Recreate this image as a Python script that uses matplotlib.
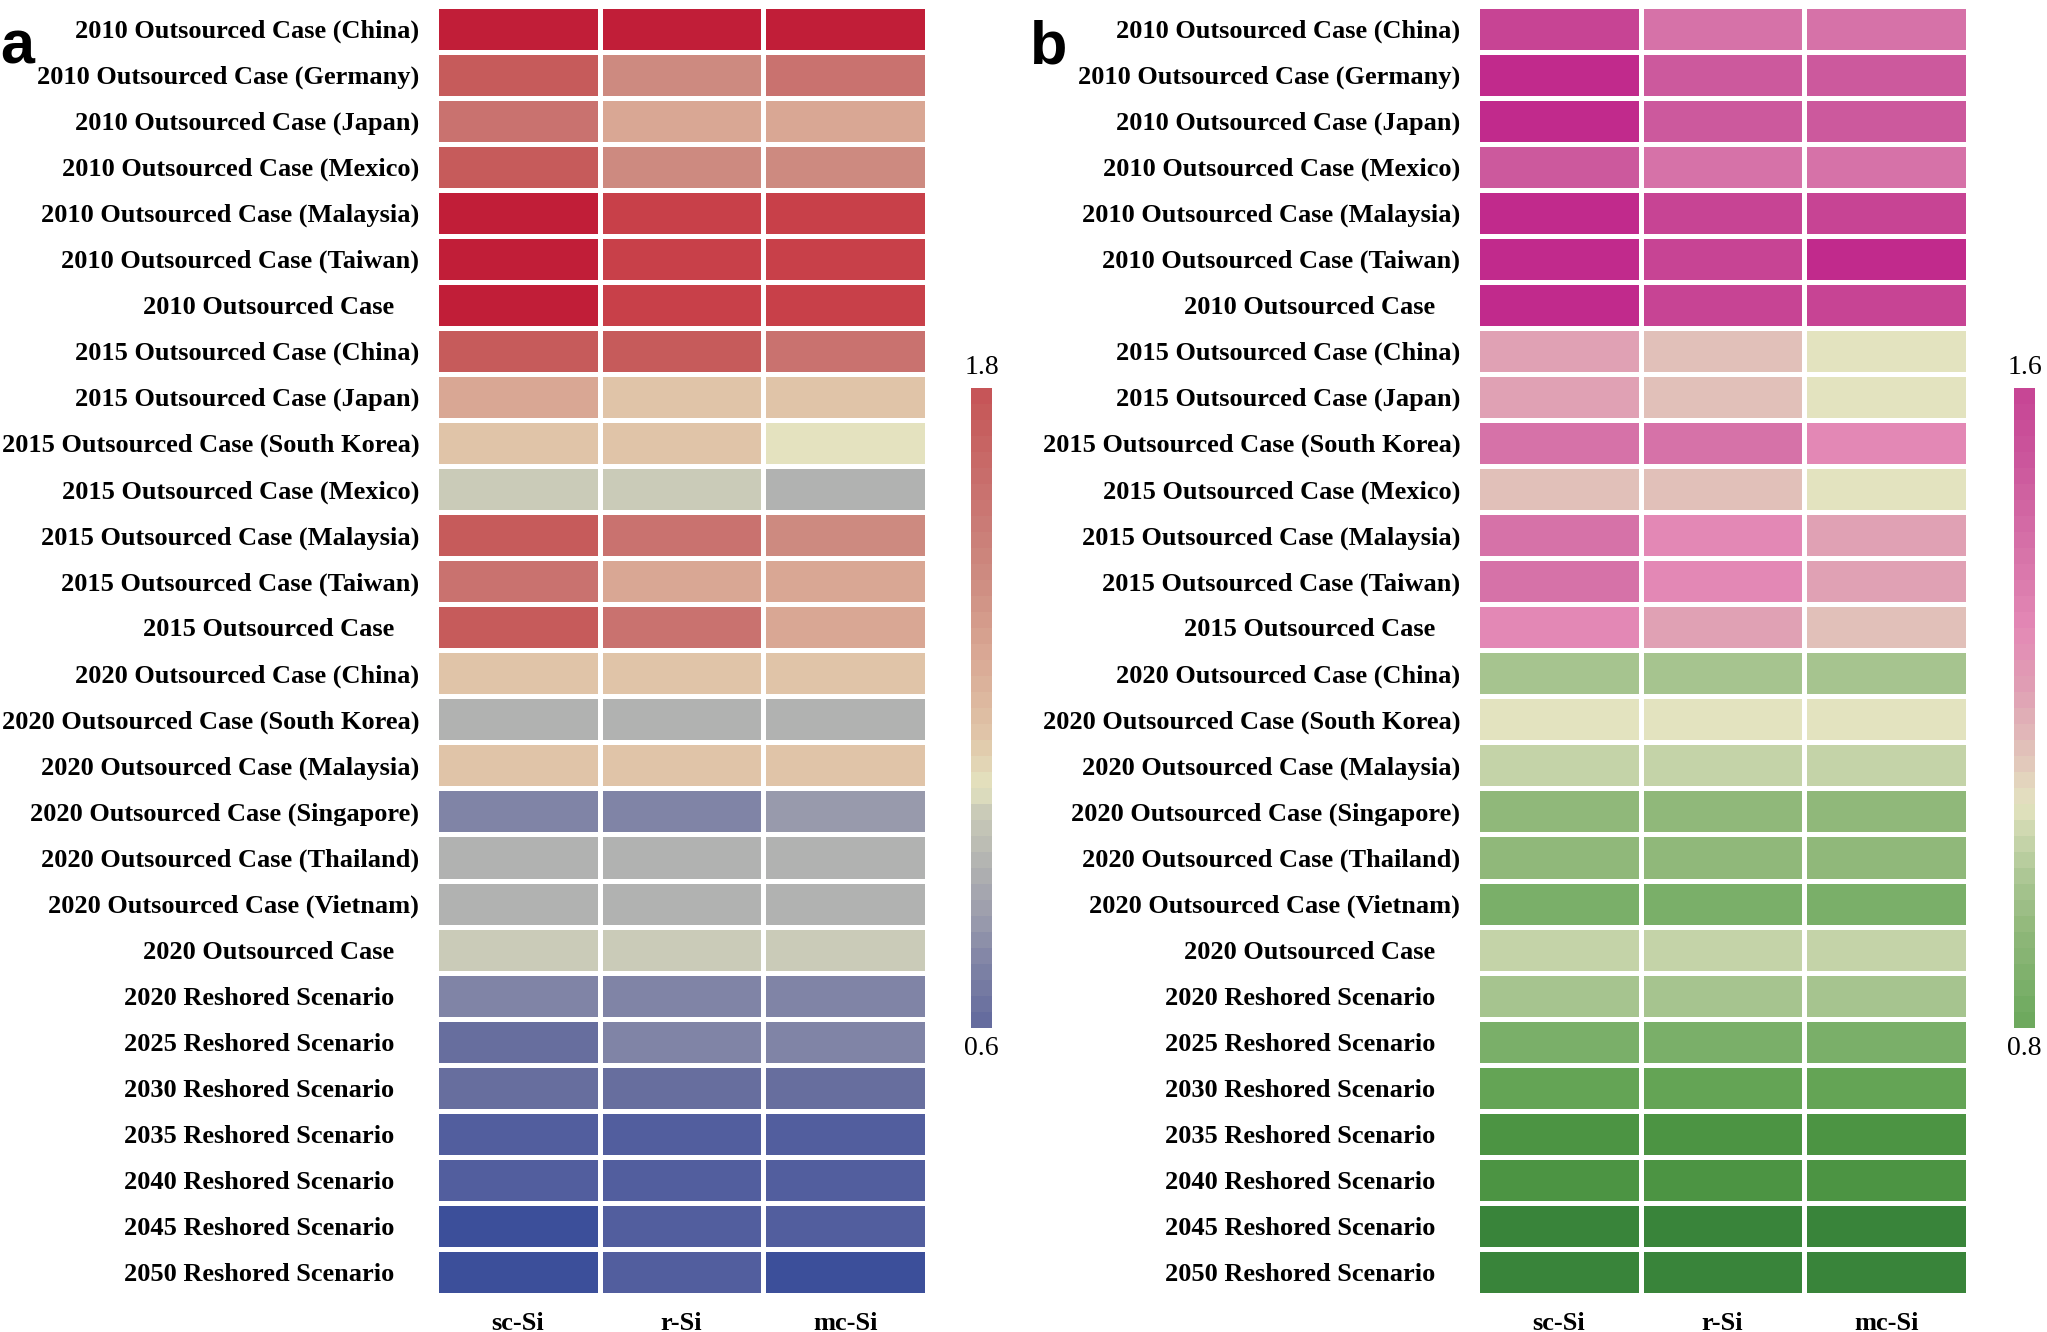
import matplotlib
matplotlib.use("Agg")
import matplotlib.pyplot as plt
import numpy as np
from matplotlib.colors import LinearSegmentedColormap, Normalize

row_labels = [
    "2010 Outsourced Case (China)", "2010 Outsourced Case (Germany)",
    "2010 Outsourced Case (Japan)", "2010 Outsourced Case (Mexico)",
    "2010 Outsourced Case (Malaysia)", "2010 Outsourced Case (Taiwan)",
    "2010 Outsourced Case", "2015 Outsourced Case (China)",
    "2015 Outsourced Case (Japan)", "2015 Outsourced Case (South Korea)",
    "2015 Outsourced Case (Mexico)", "2015 Outsourced Case (Malaysia)",
    "2015 Outsourced Case (Taiwan)", "2015 Outsourced Case",
    "2020 Outsourced Case (China)", "2020 Outsourced Case (South Korea)",
    "2020 Outsourced Case (Malaysia)", "2020 Outsourced Case (Singapore)",
    "2020 Outsourced Case (Thailand)", "2020 Outsourced Case (Vietnam)",
    "2020 Outsourced Case", "2020 Reshored Scenario", "2025 Reshored Scenario",
    "2030 Reshored Scenario", "2035 Reshored Scenario", "2040 Reshored Scenario",
    "2045 Reshored Scenario", "2050 Reshored Scenario",
]
col_labels = ["sc-Si", "r-Si", "mc-Si"]

# panel a values (sc-Si, r-Si, mc-Si)
sc_a = [2.05, 1.75, 1.60, 1.75, 2.05, 2.05, 2.05, 1.75, 1.30, 1.15, 1.00, 1.75, 1.60, 1.75,
        1.15, 0.90, 1.15, 0.72, 0.90, 0.90, 1.00, 0.72, 0.62, 0.62, 0.55, 0.55, 0.45, 0.45]
r_a = [2.05, 1.45, 1.30, 1.45, 1.90, 1.90, 1.90, 1.75, 1.15, 1.15, 1.00, 1.60, 1.30, 1.60,
       1.15, 0.90, 1.15, 0.72, 0.90, 0.90, 1.00, 0.72, 0.72, 0.62, 0.55, 0.55, 0.55, 0.55]
mc_a = [2.05, 1.60, 1.30, 1.45, 1.90, 1.90, 1.90, 1.60, 1.15, 1.05, 0.90, 1.45, 1.30, 1.30,
        1.15, 0.90, 1.15, 0.80, 0.90, 0.90, 1.00, 0.72, 0.72, 0.62, 0.55, 0.55, 0.55, 0.45]

# panel b values
sc_b = [1.60, 1.72, 1.72, 1.50, 1.72, 1.72, 1.72, 1.22, 1.22, 1.40, 1.15, 1.40, 1.40, 1.30,
        0.98, 1.08, 1.03, 0.92, 0.92, 0.85, 1.03, 0.98, 0.85, 0.78, 0.68, 0.68, 0.60, 0.60]
r_b = [1.40, 1.50, 1.50, 1.40, 1.60, 1.60, 1.60, 1.15, 1.15, 1.40, 1.15, 1.30, 1.30, 1.22,
       0.98, 1.08, 1.03, 0.92, 0.92, 0.85, 1.03, 0.98, 0.85, 0.78, 0.68, 0.68, 0.60, 0.60]
mc_b = [1.40, 1.50, 1.50, 1.40, 1.60, 1.72, 1.60, 1.08, 1.08, 1.30, 1.08, 1.22, 1.22, 1.15,
        0.98, 1.08, 1.03, 0.92, 0.92, 0.85, 1.03, 0.98, 0.85, 0.78, 0.68, 0.68, 0.60, 0.60]

# colour anchors (value, colour)
anchors_a = [(0.45, "#3C4F9A"), (0.55, "#525E9E"), (0.62, "#676E9E"), (0.72, "#8084A6"),
             (0.80, "#989AAC"), (0.90, "#B1B2B1"), (1.00, "#C9CAB8"), (1.05, "#E4E3C0"),
             (1.15, "#E0C5A8"), (1.30, "#D9A894"), (1.45, "#CD8B80"), (1.60, "#C97370"),
             (1.75, "#C65C5C"), (1.90, "#C8414A"), (2.05, "#C11E38")]
anchors_b = [(0.60, "#39843A"), (0.68, "#4C9443"), (0.78, "#64A455"), (0.85, "#7AAF69"),
             (0.92, "#90B87A"), (0.98, "#A7C490"), (1.03, "#C4D3A8"), (1.08, "#E4E3C0"),
             (1.15, "#E1BFB9"), (1.22, "#E0A1B4"), (1.30, "#E389B5"), (1.40, "#D672A8"),
             (1.50, "#CC599D"), (1.60, "#C74494"), (1.72, "#C12A8C")]


def make_cmap(anchors):
    lo, hi = anchors[0][0], anchors[-1][0]
    pts = [((v - lo) / (hi - lo), c) for v, c in anchors]
    return LinearSegmentedColormap.from_list("custom", pts), lo, hi


serif = "Liberation Serif"
fig = plt.figure(figsize=(20.47, 13.32), dpi=100)


def draw_panel(left, cb_left, letter_x, cols, anchors, cb_range, letter):
    data = np.column_stack(cols)
    cmap, lo, hi = make_cmap(anchors)
    norm = Normalize(lo, hi)
    ax = fig.add_axes([left, 0.0278, 0.2399, 0.9680])
    mesh = ax.pcolormesh(data, cmap=cmap, norm=norm, edgecolors="white", linewidth=3.6)
    ax.set_xlim(0, 3)
    ax.set_ylim(len(row_labels), 0)
    ax.set_yticks([])
    # row labels: the ones without a country sit a bit further left, as in the original
    for i, lab in enumerate(row_labels):
        off = -12 if lab.endswith(")") else -30
        ax.annotate(lab, xy=(0, i + 0.5), xycoords=ax.get_yaxis_transform(),
                    xytext=(off, 0), textcoords="offset points", ha="right",
                    va="center_baseline", fontfamily=serif, fontweight="bold", fontsize=19)
    ax.set_xticks(np.arange(3) + 0.5)
    ax.set_xticklabels(col_labels, fontfamily=serif, fontweight="bold", fontsize=19)
    ax.tick_params(length=0)
    ax.tick_params(axis="x", pad=12)
    for s in ax.spines.values():
        s.set_visible(False)

    cax = fig.add_axes([cb_left, 0.2282, 0.0103, 0.4805])
    cb = fig.colorbar(mesh, cax=cax, boundaries=np.linspace(cb_range[0], cb_range[1], 41))
    cb.outline.set_visible(False)
    cb.set_ticks([])
    cax.text(0.5, 1.012, f"{cb_range[1]:.1f}", transform=cax.transAxes, ha="center",
             va="bottom", fontfamily=serif, fontsize=20)
    cax.text(0.5, -0.012, f"{cb_range[0]:.1f}", transform=cax.transAxes, ha="center",
             va="top", fontfamily=serif, fontsize=20)

    fig.text(letter_x, 0.985, letter, fontfamily="Liberation Sans", fontweight="bold",
             fontsize=44, va="top", ha="left")


draw_panel(0.2130, 0.4744, 0.0, [sc_a, r_a, mc_a], anchors_a, (0.6, 1.8), "a")
draw_panel(0.7215, 0.9839, 0.503, [sc_b, r_b, mc_b], anchors_b, (0.8, 1.6), "b")

fig.savefig("out.png", dpi=100)
